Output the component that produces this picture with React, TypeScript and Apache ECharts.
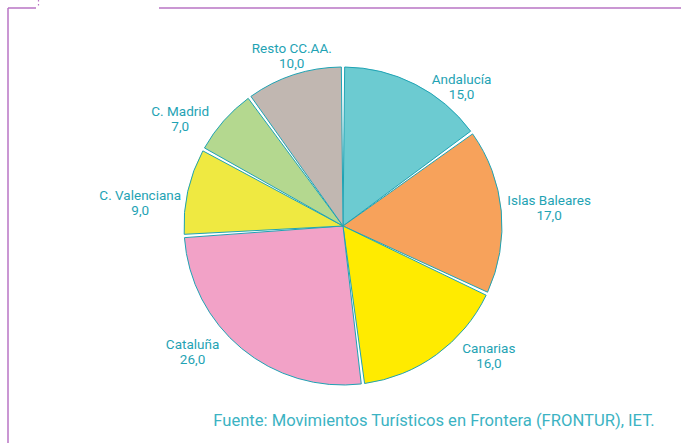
import React, { useEffect, useRef } from "react";
import * as echarts from "echarts";

const categories = ["Andalucía", "Islas Baleares", "Canarias", "Cataluña", "C. Valenciana", "C. Madrid", "Resto CC.AA."];
const values = [15.0, 17.0, 16.0, 26.0, 9.0, 7.0, 10.0];
const colors = ["#6ccbd1", "#f7a25b", "#ffeb00", "#f2a2c7", "#efe941", "#b4d88f", "#c1b7b1"];
const sourceText = "Fuente: Movimientos Turísticos en Frontera (FRONTUR), IET.";

// label nudges relative to ECharts' default outside placement
const labelShift: [number, number][] = [[7, 11], [-9, -3], [15, -7], [-11, -5], [8, 13], [-2, 4], [46, -10]];

const TEAL = "#1fa3b4";
const PURPLE = "#b874c4";

export default function App() {
  const ref = useRef<HTMLDivElement>(null);
  useEffect(() => {
    const chart = echarts.init(ref.current!, null, { renderer: "svg" });
    chart.setOption({
      animation: false,
      backgroundColor: "#ffffff",
      graphic: [
        { type: "line", shape: { x1: 8, y1: 8, x2: 36, y2: 8 }, style: { stroke: PURPLE, lineWidth: 1.5 } },
        { type: "line", shape: { x1: 159, y1: 8, x2: 681, y2: 8 }, style: { stroke: PURPLE, lineWidth: 1.5 } },
        { type: "line", shape: { x1: 8, y1: 8, x2: 8, y2: 443 }, style: { stroke: PURPLE, lineWidth: 1.5 } },
        { type: "line", shape: { x1: 38.5, y1: 0, x2: 38.5, y2: 7 }, style: { stroke: PURPLE, lineWidth: 1.2, lineDash: [1.5, 2.5] } },
        {
          type: "text",
          right: 26,
          top: 412,
          style: { text: sourceText, fill: "#3cb3c3", font: "16.6px Roboto, 'Liberation Sans', sans-serif" },
        },
      ],
      series: [
        {
          type: "pie",
          center: [343, 226],
          radius: [0, 159],
          startAngle: 90,
          clockwise: true,
          padAngle: 1.2,
          avoidLabelOverlap: false,
          itemStyle: { borderColor: TEAL, borderWidth: 1 },
          label: {
            show: true,
            position: "outside",
            color: TEAL,
            fontSize: 13.5,
            fontFamily: "Roboto, 'Liberation Sans', sans-serif",
            lineHeight: 15,
            formatter: (p: any) => `{n|${p.name}}\n{n|${p.value.toFixed(1).replace(".", ",")}}`,
            rich: { n: { align: "center", color: TEAL, fontSize: 13.5, lineHeight: 15 } },
          },
          labelLine: { show: false, length: 10, length2: 0 },
          labelLayout: (params: any) => ({ dx: labelShift[params.dataIndex][0], dy: labelShift[params.dataIndex][1] }),
          data: categories.map((c, i) => ({ name: c, value: values[i], itemStyle: { color: colors[i] } })),
        },
      ],
    });
    return () => chart.dispose();
  }, []);
  return <div ref={ref} style={{ position: "fixed", left: 0, top: 0, width: 681, height: 443 }} />;
}
